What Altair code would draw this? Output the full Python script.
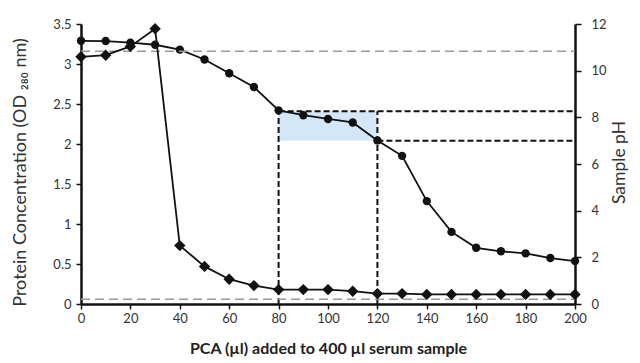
import altair as alt
import pandas as pd

pca = [0, 10, 20, 30, 40, 50, 60, 70, 80, 90, 100, 110, 120, 130, 140, 150, 160, 170, 180, 190, 200]
protein = [3.09, 3.11, 3.22, 3.44, 0.73, 0.47, 0.31, 0.23, 0.18, 0.18, 0.18, 0.16, 0.13, 0.13,
           0.12, 0.12, 0.12, 0.12, 0.12, 0.12, 0.12]
ph = [11.28, 11.27, 11.2, 11.11, 10.9, 10.48, 9.89, 9.3, 8.3, 8.09, 7.93, 7.78, 7.01, 6.35,
      4.41, 3.09, 2.41, 2.26, 2.17, 1.97, 1.84]

# window shown in blue (PCA range and pH range)
win_x = [80, 120]
win_ph = [7.0, 8.26]
# grey reference lines (protein scale)
ref_protein = [3.16, 0.06]

x_ticks = list(range(0, 201, 20))
left_ticks = [0, 0.5, 1, 1.5, 2, 2.5, 3, 3.5]
right_ticks = [0, 2, 4, 6, 8, 10, 12]

df = pd.DataFrame({"pca": pca, "protein": protein, "ph": ph})
rect_df = pd.DataFrame({"x": [win_x[0]], "x2": [win_x[1]], "y": [win_ph[0]], "y2": [win_ph[1]]})
hrule_df = pd.DataFrame({"x": [win_x[0], win_x[1]], "x2": [200, 200], "y": [win_ph[1], win_ph[0]]})
vrule_df = pd.DataFrame({"x": win_x, "y": [0, 0], "y2": [win_ph[1], win_ph[1]]})
ref_df = pd.DataFrame({"y": ref_protein, "x": [0, 0], "x2": [200, 200]})

FONT = "Lato"
XT = "PCA (µl) added to 400 µl serum sample"
RT = "Sample pH"
LT = "Protein Concentration (OD ₂₈₀ nm)"

xscale = alt.Scale(domain=[0, 200], nice=False)
xaxis = alt.Axis(values=x_ticks, titleFontWeight="bold", titleFontSize=16, titleColor="#222",
                 titlePadding=15, labelFlush=False, labelPadding=3)
ph_scale = alt.Scale(domain=[0, 12], nice=False)
pr_scale = alt.Scale(domain=[0, 3.5], nice=False)
ph_axis = alt.Axis(orient="right", values=right_ticks, titleAngle=270, titleFontSize=17.5,
                   titleFontWeight="normal", titleColor="#333",
                   titleX=44, titleY=138, titleAlign="center", titleBaseline="middle",
                   labelPadding=10, tickSize=6)
pr_axis = alt.Axis(orient="left", values=left_ticks, format="~g", titleFontSize=18,
                   titleFontWeight="normal", titleColor="#333",
                   titleX=-61, titleY=148, titleAlign="center", titleBaseline="middle",
                   labelPadding=5, tickSize=5)


def X(field):
    return alt.X(field, scale=xscale, axis=xaxis, title=XT)


def YPH(field):
    return alt.Y(field, scale=ph_scale, axis=ph_axis, title=RT)


def YPR(field):
    return alt.Y(field, scale=pr_scale, axis=pr_axis, title=LT)


dash = [6, 3]

rect = alt.Chart(rect_df).mark_rect(color="#cfe4f7", opacity=0.9).encode(
    x=X("x:Q"), x2="x2:Q", y=YPH("y:Q"), y2="y2:Q")

hrules = alt.Chart(hrule_df).mark_rule(color="#111", strokeDash=dash, strokeWidth=2).encode(
    x=X("x:Q"), x2="x2:Q", y=YPH("y:Q"))

vrules = alt.Chart(vrule_df).mark_rule(color="#111", strokeDash=dash, strokeWidth=2).encode(
    x=X("x:Q"), y=YPH("y:Q"), y2="y2:Q")

ph_line = alt.Chart(df).mark_line(color="#111", strokeWidth=1.8,
                                  point=alt.OverlayMarkDef(shape="circle", size=70, filled=True,
                                                           color="#111", opacity=1)).encode(
    x=X("pca:Q"), y=YPH("ph:Q"))

ph_group = alt.layer(rect, hrules, vrules, ph_line)

refs = alt.Chart(ref_df).mark_rule(color="#999", strokeDash=[9, 5], strokeWidth=1.5).encode(
    x=X("x:Q"), x2="x2:Q", y=YPR("y:Q"))

pr_line = alt.Chart(df).mark_line(color="#111", strokeWidth=1.8,
                                  point=alt.OverlayMarkDef(shape="diamond", size=130, filled=True,
                                                           color="#111", opacity=1)).encode(
    x=X("pca:Q"), y=YPR("protein:Q"))

pr_group = alt.layer(refs, pr_line)

chart = alt.layer(ph_group, pr_group).resolve_scale(y="independent").properties(
    width=494, height=280,
    autosize=alt.AutoSizeParams(type="none"),
    padding={"left": 73, "top": 16, "right": 57, "bottom": 55},
).configure_view(stroke=None).configure_axis(
    grid=False, domainColor="#111", domainWidth=2.5, tickColor="#111", tickWidth=1.5,
    labelFont=FONT, titleFont=FONT, labelFontSize=13, labelColor="#333",
)

chart.save("out.html", embed_options={"renderer": "svg", "actions": False})
